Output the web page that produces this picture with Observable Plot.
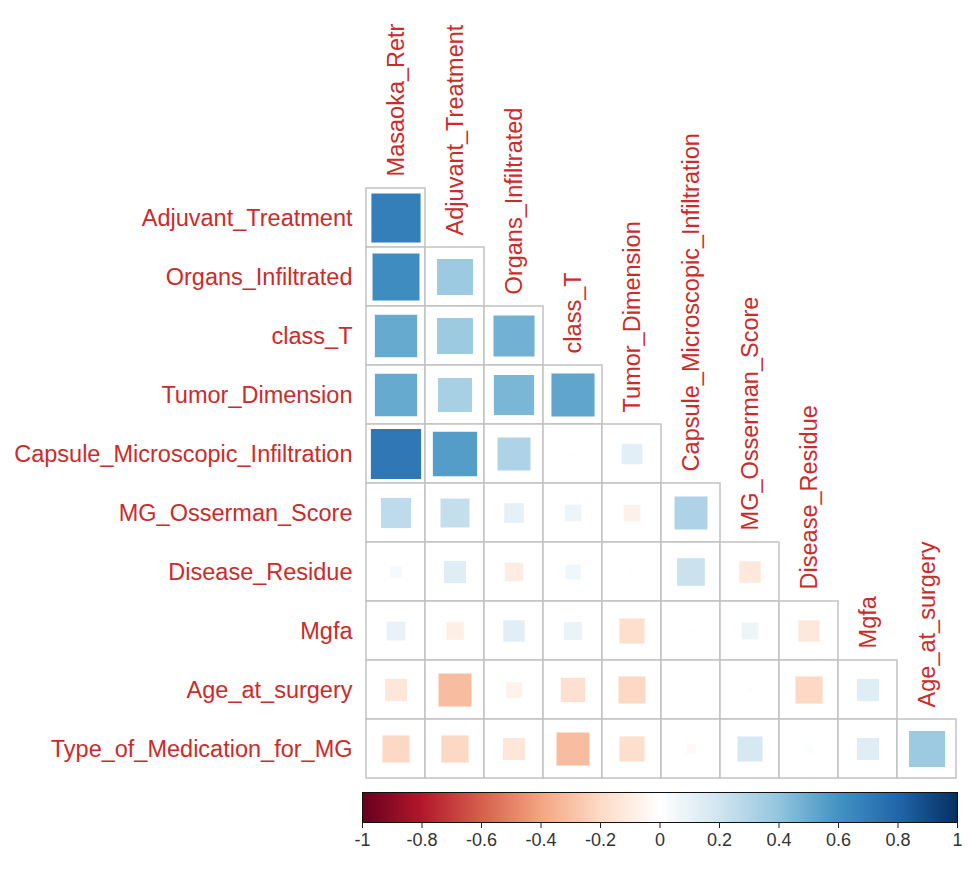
<!DOCTYPE html>
<html>
<head>
<meta charset="utf-8">
<script src="https://cdn.jsdelivr.net/npm/d3@7"></script>
<script src="https://cdn.jsdelivr.net/npm/@observablehq/plot@0.6"></script>
<style>
  html, body { margin: 0; padding: 0; background: #ffffff; }
  #chart { width: 969px; font-family: "Liberation Sans", Arial, sans-serif; }
  #chart svg { display: block; }
</style>
</head>
<body>
<div id="chart"></div>
<script>
// Column variables (top labels) and row variables (left labels)
const columns = ["Masaoka_Retr", "Adjuvant_Treatment", "Organs_Infiltrated", "class_T", "Tumor_Dimension",
  "Capsule_Microscopic_Infiltration", "MG_Osserman_Score", "Disease_Residue", "Mgfa", "Age_at_surgery"];
const rows = ["Adjuvant_Treatment", "Organs_Infiltrated", "class_T", "Tumor_Dimension",
  "Capsule_Microscopic_Infiltration", "MG_Osserman_Score", "Disease_Residue", "Mgfa", "Age_at_surgery",
  "Type_of_Medication_for_MG"];

// Correlations, one array per row (lower triangle)
const corrAdjuvantTreatment = [0.69];
const corrOrgansInfiltrated = [0.63, 0.37];
const corrClassT = [0.51, 0.37, 0.48];
const corrTumorDimension = [0.51, 0.33, 0.46, 0.53];
const corrCapsuleMicroscopic = [0.72, 0.56, 0.31, 0.01, 0.12];
const corrMGOsserman = [0.26, 0.24, 0.11, 0.08, -0.08, 0.31];
const corrDiseaseResidue = [0.04, 0.14, -0.10, 0.065, 0.01, 0.22, -0.13];
const corrMgfa = [0.10, -0.09, 0.13, 0.09, -0.18, 0.01, 0.08, -0.13];
const corrAgeAtSurgery = [-0.14, -0.31, -0.07, -0.17, -0.21, 0.004, -0.01, -0.21, 0.14];
const corrTypeOfMedication = [-0.21, -0.21, -0.14, -0.31, -0.18, -0.03, 0.18, 0.02, 0.14, 0.37];

const rowValues = [corrAdjuvantTreatment, corrOrgansInfiltrated, corrClassT, corrTumorDimension,
  corrCapsuleMicroscopic, corrMGOsserman, corrDiseaseResidue, corrMgfa, corrAgeAtSurgery, corrTypeOfMedication];

// Colour bar tick labels
const legendTicks = [-1, -0.8, -0.6, -0.4, -0.2, 0, 0.2, 0.4, 0.6, 0.8, 1];
// corrplot RdBu palette stops
const paletteStops = ["#67001F", "#B2182B", "#D6604D", "#F4A582", "#FDDBC7", "#FFFFFF",
  "#D1E5F0", "#92C5DE", "#4393C3", "#2166AC", "#053061"];

const cells = rowValues.flatMap((vals, i) => vals.map((v, j) => ({row: rows[i], col: columns[j], v})));
const colLabels = columns.map((c, i) => ({col: c, row: rows[i]}));

const W = 969, ML = 365, MR = 12, MT = 187, MB = 6;
const cellSize = (W - ML - MR) / columns.length;
const H = MT + cellSize * rows.length + MB;
const labelColor = "#cc2b2b";
const fontFamily = "Liberation Sans, Arial, sans-serif";

const colorScale = {type: "linear", domain: [-1, 1], interpolate: d3.piecewise(d3.interpolateRgb, paletteStops)};

const main = Plot.plot({
  width: W,
  height: H,
  marginLeft: ML,
  marginRight: MR,
  marginTop: MT,
  marginBottom: MB,
  style: {fontFamily, background: "white", overflow: "visible"},
  x: {type: "band", domain: columns, padding: 0, axis: null},
  y: {type: "band", domain: rows, padding: 0, axis: null},
  color: colorScale,
  r: {type: "sqrt", domain: [0, 1], range: [0, cellSize / Math.sqrt(Math.PI)]},
  marks: [
    Plot.cell(cells, {x: "col", y: "row", fill: "white", stroke: "#c2c2c2", strokeWidth: 1.5, inset: 0}),
    Plot.dot(cells, {x: "col", y: "row", symbol: "square", r: d => Math.abs(d.v), fill: "v", stroke: "none"}),
    Plot.text(rows, {y: d => d, frameAnchor: "left", textAnchor: "end", dx: -13,
      fontSize: 23.5, fill: labelColor}),
    Plot.text(colLabels, {x: "col", y: "row", text: "col", rotate: -90, textAnchor: "start",
      dy: -(cellSize / 2 + 12), fontSize: 23.5, fill: labelColor})
  ]
});

const bar = Plot.plot({
  width: W,
  height: 72,
  marginLeft: 362,
  marginRight: 12,
  marginTop: 7,
  marginBottom: 35,
  style: {fontFamily, background: "white"},
  x: {domain: [-1, 1], axis: null},
  y: {domain: [0, 1], axis: null},
  color: colorScale,
  marks: [
    Plot.raster({fill: (x, y) => x, x1: -1, x2: 1, y1: 0, y2: 1, width: 600, height: 1, imageRendering: "auto"}),
    Plot.frame({stroke: "#111", strokeWidth: 1}),
    Plot.axisX(legendTicks, {anchor: "bottom", tickFormat: d => String(d), tickSize: 6, tickPadding: 5,
      fontSize: 18, stroke: "#222", fill: "#333", label: null})
  ]
});

document.getElementById("chart").append(main, bar);
</script>
</body>
</html>
